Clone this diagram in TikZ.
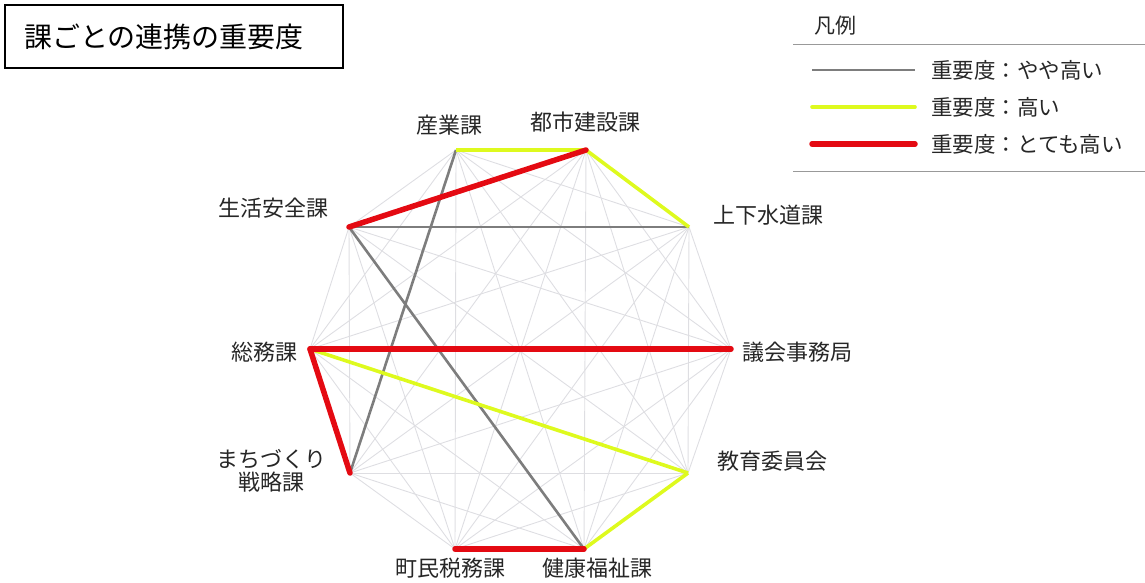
\documentclass[tikz,border=0pt]{standalone}
\usepackage{fontspec}
\setmainfont{Noto Sans CJK JP}
\definecolor{cgray}{RGB}{125,125,125}
\definecolor{cyel}{RGB}{222,250,30}
\definecolor{cred}{RGB}{228,10,18}
\definecolor{cfaint}{RGB}{222,222,226}
\tikzset{
  faint/.style={draw=cfaint,line width=0.9pt},
  mid/.style={draw=cgray,line width=2.6pt},
  high/.style={draw=cyel,line width=3.6pt},
  vhigh/.style={draw=cred,line width=5.5pt,line cap=round},
  lbl/.style={font=\fontsize{22}{25}\selectfont,inner sep=0pt,text=black!85},
  leg/.style={font=\fontsize{21.5}{25}\selectfont,inner sep=0pt,anchor=west,text=black!85},
}
\begin{document}
\begin{tikzpicture}[x=1pt,y=-1pt]
\useasboundingbox (0,0) rectangle (1145,582);
% vertices
\coordinate (n1) at (456,150);  % 産業課
\coordinate (n2) at (586,150);  % 都市建設課
\coordinate (n3) at (689,227);  % 上下水道課
\coordinate (n4) at (731,349);  % 議会事務局
\coordinate (n5) at (688,473);  % 教育委員会
\coordinate (n6) at (584,549);  % 健康福祉課
\coordinate (n7) at (455,549);  % 町民税務課
\coordinate (n8) at (350,473);  % まちづくり戦略課
\coordinate (n9) at (310,349);  % 総務課
\coordinate (n10) at (349,227); % 生活安全課
% faint complete graph
\foreach \i in {1,...,10}{
  \foreach \j in {1,...,10}{
    \ifnum\i<\j \draw[faint] (n\i) -- (n\j); \fi
  }
}
% gray
\draw[mid] (n10) -- (n3);
\draw[mid] (n10) -- (n6);
\draw[mid] (n1) -- (n8);
% yellow
\draw[high] (n1) -- (n2);
\draw[high] (n2) -- (n3);
\draw[high] (n9) -- (n5);
\draw[high] (n5) -- (n6);
% red
\draw[vhigh] (n10) -- (n2);
\draw[vhigh] (n9) -- (n4);
\draw[vhigh] (n9) -- (n8);
\draw[vhigh] (n7) -- (n6);
% labels
\node[lbl] (l1) at (449,125) {産業課};
\node[lbl] (l2) at (585,122) {都市建設課};
\node[lbl] (l3) at (768,215) {上下水道課};
\node[lbl] (l4) at (797,352) {議会事務局};
\node[lbl] (l5) at (772,461) {教育委員会};
\node[lbl] (l6) at (597,568) {健康福祉課};
\node[lbl] (l7) at (450,568) {町民税務課};
\node[lbl,align=center] (l8) at (271,471) {まちづくり\\[-2pt]戦略課};
\node[lbl] (l9) at (264,352) {総務課};
\node[lbl] (l10) at (273,208) {生活安全課};
% title
\draw[line width=1.2pt] (5,5) rectangle (343,68);
\node[inner sep=0pt,font=\fontsize{28}{32}\selectfont] (title) at (164,37) {課ごとの連携の重要度};
% legend
\node[inner sep=0pt,font=\fontsize{21}{24}\selectfont,text=black!85] (legt) at (835,26) {凡例};
\coordinate (lt1) at (793,44);
\coordinate (lt2) at (1145,44);
\coordinate (lb1) at (793,171);
\coordinate (lb2) at (1145,171);
\draw[draw=gray!80,line width=1pt] (lt1) -- (lt2);
\draw[draw=gray!80,line width=1pt] (lb1) -- (lb2);
\coordinate (ga) at (812,70); \coordinate (gb) at (915,70);
\coordinate (ya) at (812,107); \coordinate (yb) at (915,107);
\coordinate (ra) at (812,144); \coordinate (rb) at (915,144);
\draw[mid] (ga) -- (gb);
\draw[high,line cap=round] (ya) -- (yb);
\draw[vhigh] (ra) -- (rb);
\node[leg] (t1) at (931,70) {重要度：やや高い};
\node[leg] (t2) at (931,107) {重要度：高い};
\node[leg] (t3) at (931,144) {重要度：とても高い};
\end{tikzpicture}
\end{document}
